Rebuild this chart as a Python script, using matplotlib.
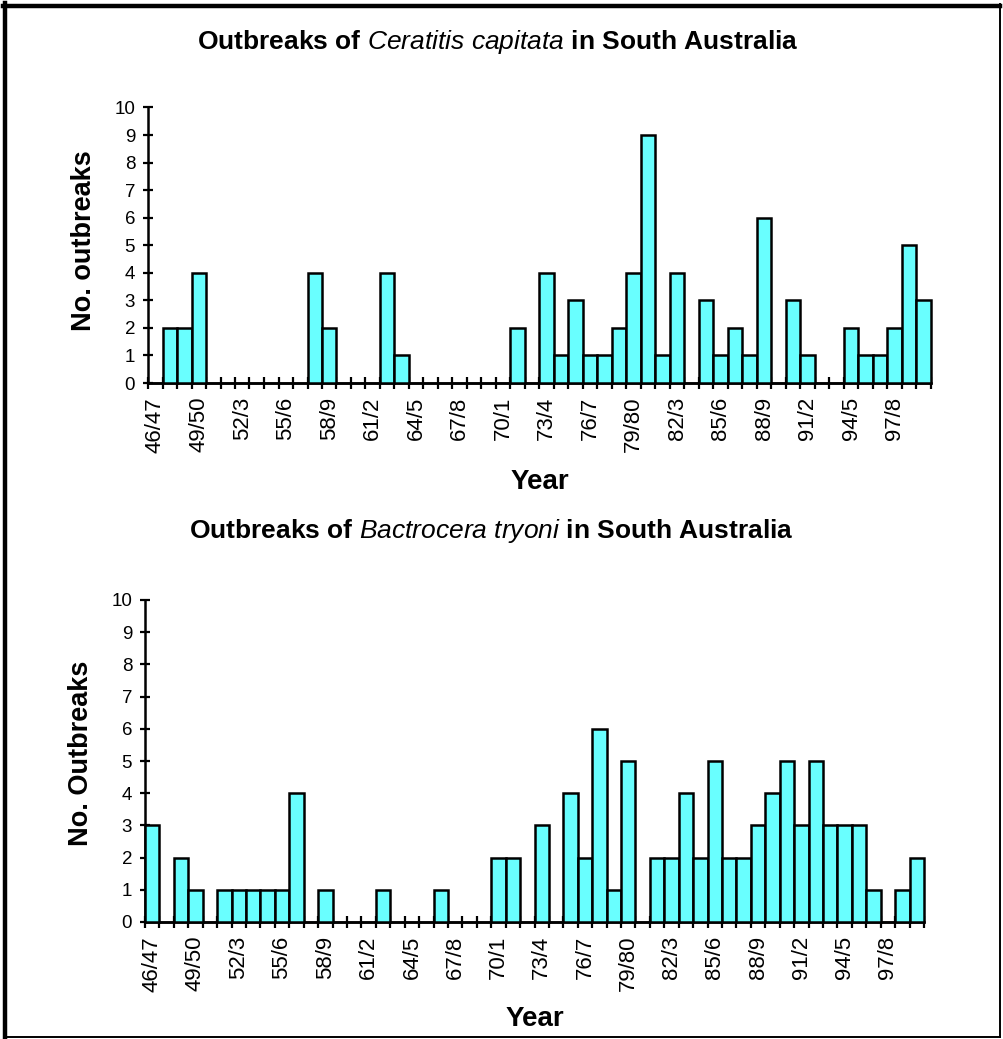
import numpy as np
import matplotlib
matplotlib.use('Agg')
import matplotlib.pyplot as plt
from matplotlib.lines import Line2D

# --- data ---------------------------------------------------------
seasons = ['46/47', '47/48', '48/49', '49/50', '50/1', '51/2', '52/3', '53/4', '54/5',
           '55/6', '56/7', '57/8', '58/9', '59/60', '60/1', '61/2', '62/3', '63/4',
           '64/5', '65/6', '66/7', '67/8', '68/9', '69/70', '70/1', '71/2', '72/3',
           '73/4', '74/5', '75/6', '76/7', '77/8', '78/9', '79/80', '80/1', '81/2',
           '82/3', '83/4', '84/5', '85/6', '86/7', '87/8', '88/9', '89/90', '90/1',
           '91/2', '92/3', '93/4', '94/5', '95/6', '96/7', '97/8', '98/9', '99/00']

# Ceratitis capitata (medfly)
medfly = [0, 2, 2, 4, 0, 0, 0, 0, 0, 0, 0, 4, 2, 0, 0, 0, 4, 1,
          0, 0, 0, 0, 0, 0, 0, 2, 0, 4, 1, 3, 1, 1, 2, 4, 9, 1,
          4, 0, 3, 1, 2, 1, 6, 0, 3, 1, 0, 0, 2, 1, 1, 2, 5, 3]

# Bactrocera tryoni (Queensland fruit fly)
qfly = [3, 0, 2, 1, 0, 1, 1, 1, 1, 1, 4, 0, 1, 0, 0, 0, 1, 0,
        0, 0, 1, 0, 0, 0, 2, 2, 0, 3, 0, 4, 2, 6, 1, 5, 0, 2,
        2, 4, 2, 5, 2, 2, 3, 4, 5, 3, 5, 3, 3, 3, 1, 0, 1, 2]

# only every third season gets a label
shown_seasons = ['46/47', '49/50', '52/3', '55/6', '58/9', '61/2', '64/5', '67/8', '70/1',
                 '73/4', '76/7', '79/80', '82/3', '85/6', '88/9', '91/2', '94/5', '97/8']

# --- style --------------------------------------------------------
plt.rcParams['font.family'] = 'Liberation Sans'
plt.rcParams['mathtext.fontset'] = 'custom'
plt.rcParams['mathtext.it'] = 'Liberation Sans:italic'
plt.rcParams['mathtext.rm'] = 'Liberation Sans:bold'

W, H = 1004, 1039
fig = plt.figure(figsize=(W / 100, H / 100), dpi=100)


def box(x0, y0, x1, y1):
    # pixel box (top-left origin) -> figure fraction rect
    return [x0 / W, 1 - y1 / H, (x1 - x0) / W, (y1 - y0) / H]


def outbreak_panel(rect, values):
    ax = fig.add_axes(rect)
    n = len(values)
    x = np.arange(n) + 0.5
    ax.bar(x, values, width=1.0, color='#69ffff', edgecolor='black',
           linewidth=1.8, zorder=3, clip_on=False)
    ax.set_xlim(0, n)
    ax.set_ylim(0, 10)
    ax.set_yticks(range(11))
    ax.tick_params(axis='y', direction='inout', length=6.5, width=1.6,
                   labelsize=13.5, pad=6)

    # tick marks between categories, labels on every third category
    ax.set_xticks(np.arange(n + 1))
    ax.set_xticklabels([])
    ax.tick_params(axis='x', which='major', direction='inout', length=9, width=1.6)
    pos = [seasons.index(s) + 0.5 for s in shown_seasons]
    ax.set_xticks(pos, minor=True)
    ax.set_xticklabels(shown_seasons, minor=True, rotation=90, va='top', ha='center')
    ax.tick_params(axis='x', which='minor', length=0, pad=10, labelsize=16)

    for side in ['top', 'right']:
        ax.spines[side].set_visible(False)
    for side in ['left', 'bottom']:
        ax.spines[side].set_linewidth(1.8)
    ax.set_facecolor('none')
    return ax


ax1 = outbreak_panel(box(148, 107.5, 931, 383), medfly)
ax2 = outbreak_panel(box(145, 600, 924, 922), qfly)

# titles and axis labels
fig.text(498 / W, 1 - 42 / H,
         r'Outbreaks of $\mathit{Ceratitis\ capitata}$ in South Australia',
         ha='center', va='center', fontsize=19, fontweight='bold')
fig.text(491 / W, 1 - 531 / H,
         r'Outbreaks of $\mathit{Bactrocera\ tryoni}$ in South Australia',
         ha='center', va='center', fontsize=19, fontweight='bold')

fig.text(540 / W, 1 - 482 / H, 'Year', ha='center', va='center',
         fontsize=20, fontweight='bold')
fig.text(535 / W, 1 - 1019 / H, 'Year', ha='center', va='center',
         fontsize=20, fontweight='bold')

fig.text(84 / W, 1 - 241 / H, 'No. outbreaks', ha='center', va='center',
         rotation=90, fontsize=19.5, fontweight='bold')
fig.text(81 / W, 1 - 753 / H, 'No. Outbreaks', ha='center', va='center',
         rotation=90, fontsize=19.5, fontweight='bold')

# frame round the whole picture: heavy left/top, light right/bottom
fig.add_artist(Line2D([5 / W, 5 / W], [0.5 / H, 1 - 3 / H], color='black', lw=3.2))
fig.add_artist(Line2D([3 / W, 1000 / W], [1 - 5.5 / H, 1 - 5.5 / H], color='black', lw=3.2))
fig.add_artist(Line2D([1000 / W, 1000 / W], [1 - 4 / H, 1 - 1037 / H], color='black', lw=1.4))
fig.add_artist(Line2D([4 / W, 1000 / W], [1 - 1037 / H, 1 - 1037 / H], color='black', lw=1.4))

fig.savefig('out.png', dpi=100)
